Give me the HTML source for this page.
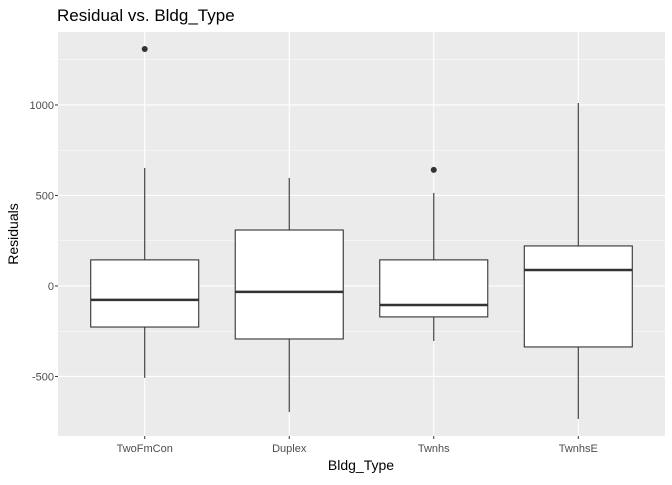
<!DOCTYPE html>
<html><head><meta charset="utf-8"><style>
body{margin:0;background:#fff;font-family:"Liberation Sans",sans-serif;}
</style></head><body>
<svg id="chart" width="672" height="480" xmlns="http://www.w3.org/2000/svg">
<text x="57" y="21" font-size="17" fill="#000">Residual vs. Bldg_Type</text>
<rect x="58" y="32" width="607" height="404" fill="#ebebeb"/>
<g id="grid"></g><g id="boxes"></g><g id="axes"></g>
<text x="361" y="470" font-size="14" text-anchor="middle">Bldg_Type</text>
<text transform="translate(18,234) rotate(-90)" font-size="14" text-anchor="middle">Residuals</text>
</svg>
<script>
const categories=["TwoFmCon","Duplex","Twnhs","TwnhsE"];
const upperWhisker=[652,597,514,1011];
const q3=[144,309,144,221];
const median=[-77,-33,-105,88];
const q1=[-227,-293,-171,-337];
const lowerWhisker=[-508,-696,-304,-735];
const outliers=[[1309],[],[641],[]];
const yTicks=[-500,0,500,1000];
const NS="http://www.w3.org/2000/svg";
const L=58,R=665,T=32,B=436,yMin=-829,yMax=1403;
const y=v=>B-(v-yMin)/(yMax-yMin)*(B-T);
const x=i=>L+(i+0.6)/(categories.length+0.2)*(R-L);
function mk(p,t,a){const e=document.createElementNS(NS,t);for(const k in a)e.setAttribute(k,a[k]);p.appendChild(e);return e;}
const grid=document.getElementById('grid'),boxes=document.getElementById('boxes'),axes=document.getElementById('axes');
for(let i=0;i<yTicks.length-1;i++){const m=(yTicks[i]+yTicks[i+1])/2;
const g=mk(grid,'line',{x1:L,x2:R,y1:y(m),y2:y(m),stroke:'#fff','stroke-width':0.5});

}
const m2=mk(grid,'line',{x1:L,x2:R,y1:y(1250),y2:y(1250),stroke:'#fff','stroke-width':0.5});


yTicks.forEach(v=>{const g=mk(grid,'line',{x1:L,x2:R,y1:y(v),y2:y(v),stroke:'#fff','stroke-width':1.1});


const t=mk(axes,'text',{x:L-4,y:y(v)+4,'font-size':11,fill:'#4d4d4d','text-anchor':'end'});t.textContent=v;


const tk=mk(axes,'line',{x1:L-3,x2:L,y1:y(v),y2:y(v),stroke:'#333'});

});
categories.forEach((c,i)=>{const cx=x(i);
const g=mk(grid,'line',{x1:cx,x2:cx,y1:T,y2:B,stroke:'#fff','stroke-width':1.1});


const t=mk(axes,'text',{x:cx,y:B+16,'font-size':11,fill:'#4d4d4d','text-anchor':'middle'});t.textContent=c;


const tk=mk(axes,'line',{x1:cx,x2:cx,y1:B,y2:B+3,stroke:'#333'});


const grp=mk(boxes,'g',{});


const w=108;
mk(grp,'line',{x1:cx,x2:cx,y1:y(upperWhisker[i]),y2:y(q3[i]),stroke:'#333','stroke-width':1.1});
mk(grp,'line',{x1:cx,x2:cx,y1:y(q1[i]),y2:y(lowerWhisker[i]),stroke:'#333','stroke-width':1.1});
mk(grp,'rect',{x:cx-w/2,y:y(q3[i]),width:w,height:y(q1[i])-y(q3[i]),fill:'#fff',stroke:'#333','stroke-width':1.1});
mk(grp,'line',{x1:cx-w/2,x2:cx+w/2,y1:y(median[i]),y2:y(median[i]),stroke:'#333','stroke-width':2.5});
outliers[i].forEach(o=>{const d=mk(grp,'circle',{cx:cx,cy:y(o),r:3,fill:'#333'});

});});
</script>
</body></html>
